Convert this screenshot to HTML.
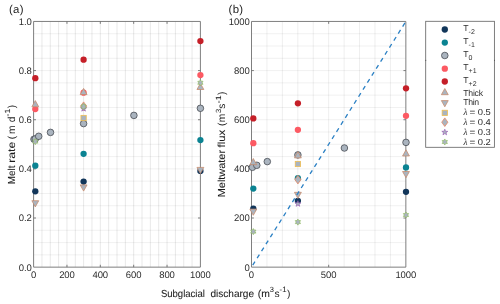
<!DOCTYPE html>
<html><head><meta charset="utf-8"><title>Figure</title>
<style>html,body{margin:0;padding:0;background:#fff;overflow:hidden}body{width:500px;height:304px;position:relative;font-family:"Liberation Sans",sans-serif}</style>
</head><body>
<svg width="500" height="304" viewBox="0 0 500 304" style="display:block;position:absolute;left:0;top:0;will-change:transform;text-rendering:geometricPrecision" font-family="'Liberation Sans', sans-serif" fill="#2e2e2e">
<rect width="500" height="304" fill="#fff"/>
<path d="M41.94 21.45V267.15M50.28 21.45V267.15M58.62 21.45V267.15M66.96 21.45V267.15M75.3 21.45V267.15M83.64 21.45V267.15M91.98 21.45V267.15M100.32 21.45V267.15M108.66 21.45V267.15M117 21.45V267.15M125.34 21.45V267.15M133.68 21.45V267.15M142.02 21.45V267.15M150.36 21.45V267.15M158.7 21.45V267.15M167.04 21.45V267.15M175.38 21.45V267.15M183.72 21.45V267.15M192.06 21.45V267.15" stroke="#000" stroke-opacity="0.115" stroke-width="0.8" fill="none"/>
<path d="M33.6 254.86H200.4M33.6 242.58H200.4M33.6 230.29H200.4M33.6 218.01H200.4M33.6 205.72H200.4M33.6 193.44H200.4M33.6 181.15H200.4M33.6 168.87H200.4M33.6 156.58H200.4M33.6 144.3H200.4M33.6 132.01H200.4M33.6 119.73H200.4M33.6 107.44H200.4M33.6 95.16H200.4M33.6 82.87H200.4M33.6 70.59H200.4M33.6 58.31H200.4M33.6 46.02H200.4M33.6 33.73H200.4" stroke="#000" stroke-opacity="0.08" stroke-width="0.8" fill="none"/>
<path d="M266.94 21.45V267.15M282.37 21.45V267.15M297.81 21.45V267.15M313.24 21.45V267.15M328.68 21.45V267.15M344.11 21.45V267.15M359.55 21.45V267.15M374.98 21.45V267.15M390.42 21.45V267.15" stroke="#000" stroke-opacity="0.085" stroke-width="0.8" fill="none"/>
<path d="M251.5 254.86H405.85M251.5 242.58H405.85M251.5 230.29H405.85M251.5 218.01H405.85M251.5 205.72H405.85M251.5 193.44H405.85M251.5 181.15H405.85M251.5 168.87H405.85M251.5 156.58H405.85M251.5 144.3H405.85M251.5 132.01H405.85M251.5 119.73H405.85M251.5 107.44H405.85M251.5 95.16H405.85M251.5 82.87H405.85M251.5 70.59H405.85M251.5 58.31H405.85M251.5 46.02H405.85M251.5 33.73H405.85" stroke="#000" stroke-opacity="0.08" stroke-width="0.8" fill="none"/>
<path d="M33.6 21.45H200.4V267.15H33.6ZM66.96 267.15v-2.4M66.96 21.45v2.4M100.32 267.15v-2.4M100.32 21.45v2.4M133.68 267.15v-2.4M133.68 21.45v2.4M167.04 267.15v-2.4M167.04 21.45v2.4M33.6 218.01h2.4M200.4 218.01h-2.4M33.6 168.87h2.4M200.4 168.87h-2.4M33.6 119.73h2.4M200.4 119.73h-2.4M33.6 70.59h2.4M200.4 70.59h-2.4" stroke="#686868" stroke-width="0.85" fill="none"/>
<path d="M251.5 21.45H405.85V267.15H251.5ZM328.68 267.15v-2.4M328.68 21.45v2.4M251.5 218.01h2.4M405.85 218.01h-2.4M251.5 168.87h2.4M405.85 168.87h-2.4M251.5 119.73h2.4M405.85 119.73h-2.4M251.5 70.59h2.4M405.85 70.59h-2.4" stroke="#686868" stroke-width="0.85" fill="none"/>
<text x="33.6" y="277.8" font-size="9.5" text-anchor="middle" textLength="5.22" lengthAdjust="spacing">0</text>
<text x="66.96" y="277.8" font-size="9.5" text-anchor="middle" textLength="15.66" lengthAdjust="spacing">200</text>
<text x="100.32" y="277.8" font-size="9.5" text-anchor="middle" textLength="15.66" lengthAdjust="spacing">400</text>
<text x="133.68" y="277.8" font-size="9.5" text-anchor="middle" textLength="15.66" lengthAdjust="spacing">600</text>
<text x="167.04" y="277.8" font-size="9.5" text-anchor="middle" textLength="15.66" lengthAdjust="spacing">800</text>
<text x="200.4" y="277.8" font-size="9.5" text-anchor="middle" textLength="20.88" lengthAdjust="spacing">1000</text>
<text x="31.8" y="270.5" font-size="9.5" text-anchor="end" textLength="13.05" lengthAdjust="spacing">0.0</text>
<text x="31.8" y="221.36" font-size="9.5" text-anchor="end" textLength="13.05" lengthAdjust="spacing">0.2</text>
<text x="31.8" y="172.22" font-size="9.5" text-anchor="end" textLength="13.05" lengthAdjust="spacing">0.4</text>
<text x="31.8" y="123.08" font-size="9.5" text-anchor="end" textLength="13.05" lengthAdjust="spacing">0.6</text>
<text x="31.8" y="73.94" font-size="9.5" text-anchor="end" textLength="13.05" lengthAdjust="spacing">0.8</text>
<text x="31.8" y="24.8" font-size="9.5" text-anchor="end" textLength="13.05" lengthAdjust="spacing">1.0</text>
<text x="251.5" y="277.8" font-size="9.5" text-anchor="middle" textLength="5.22" lengthAdjust="spacing">0</text>
<text x="328.68" y="277.8" font-size="9.5" text-anchor="middle" textLength="15.66" lengthAdjust="spacing">500</text>
<text x="405.85" y="277.8" font-size="9.5" text-anchor="middle" textLength="20.88" lengthAdjust="spacing">1000</text>
<text x="249.7" y="270.5" font-size="9.5" text-anchor="end" textLength="5.22" lengthAdjust="spacing">0</text>
<text x="249.7" y="221.36" font-size="9.5" text-anchor="end" textLength="15.66" lengthAdjust="spacing">200</text>
<text x="249.7" y="172.22" font-size="9.5" text-anchor="end" textLength="15.66" lengthAdjust="spacing">400</text>
<text x="249.7" y="123.08" font-size="9.5" text-anchor="end" textLength="15.66" lengthAdjust="spacing">600</text>
<text x="249.7" y="73.94" font-size="9.5" text-anchor="end" textLength="15.66" lengthAdjust="spacing">800</text>
<text x="249.7" y="24.8" font-size="9.5" text-anchor="end" textLength="20.88" lengthAdjust="spacing">1000</text>
<text x="8.9" y="13.2" font-size="11.4" text-anchor="start" letter-spacing="0.35" fill="#1c1c1c">(a)</text>
<text x="228.5" y="13.2" font-size="11.4" text-anchor="start" letter-spacing="0.35" fill="#1c1c1c">(b)</text>
<text x="160.9" y="296.5" font-size="10.2" fill="#1c1c1c" stroke="#1c1c1c" stroke-width="0.07" textLength="44" lengthAdjust="spacingAndGlyphs">Subglacial</text>
<text x="210.4" y="296.5" font-size="10.2" fill="#1c1c1c" stroke="#1c1c1c" stroke-width="0.07" textLength="43.7" lengthAdjust="spacingAndGlyphs">discharge</text>
<text x="257.8" y="296.5" font-size="10.2" fill="#1c1c1c" stroke="#1c1c1c" stroke-width="0.07" textLength="12.1" lengthAdjust="spacingAndGlyphs">(m</text>
<text x="271.95" y="291.8" font-size="7.5" fill="#1c1c1c" text-anchor="middle">3</text>
<text x="276.95" y="296.5" font-size="10.2" fill="#1c1c1c" text-anchor="middle">s</text>
<text x="279.6" y="291.8" font-size="7.5" fill="#1c1c1c" stroke="#1c1c1c" stroke-width="0.07" textLength="6.8" lengthAdjust="spacingAndGlyphs">-1</text>
<text x="288.7" y="296.5" font-size="10.2" fill="#1c1c1c" text-anchor="middle">)</text>
<text transform="translate(15,184.2) rotate(-90)" font-size="10.2" fill="#1c1c1c" stroke="#1c1c1c" stroke-width="0.07" textLength="18.7" lengthAdjust="spacingAndGlyphs">Melt</text>
<text transform="translate(15,162.8) rotate(-90)" font-size="10.2" fill="#1c1c1c" stroke="#1c1c1c" stroke-width="0.07" textLength="21.1" lengthAdjust="spacingAndGlyphs">rate</text>
<text transform="translate(15,137.45) rotate(-90)" font-size="10.2" fill="#1c1c1c" text-anchor="middle">(</text>
<text transform="translate(15,129.8) rotate(-90)" font-size="10.2" fill="#1c1c1c" text-anchor="middle">m</text>
<text transform="translate(15,119.4) rotate(-90)" font-size="10.2" fill="#1c1c1c" text-anchor="middle">d</text>
<text transform="translate(10.3,116.4) rotate(-90)" font-size="7.5" fill="#1c1c1c" stroke="#1c1c1c" stroke-width="0.07" textLength="7.8" lengthAdjust="spacingAndGlyphs">-1</text>
<text transform="translate(15,106.6) rotate(-90)" font-size="10.2" fill="#1c1c1c" text-anchor="middle">)</text>
<text transform="translate(225.4,197.3) rotate(-90)" font-size="10.2" fill="#1c1c1c" stroke="#1c1c1c" stroke-width="0.07" textLength="47.4" lengthAdjust="spacingAndGlyphs">Meltwater</text>
<text transform="translate(225.4,147.4) rotate(-90)" font-size="10.2" fill="#1c1c1c" stroke="#1c1c1c" stroke-width="0.07" textLength="17.7" lengthAdjust="spacingAndGlyphs">flux</text>
<text transform="translate(225.4,124.3) rotate(-90)" font-size="10.2" fill="#1c1c1c" text-anchor="middle">(</text>
<text transform="translate(225.4,117.9) rotate(-90)" font-size="10.2" fill="#1c1c1c" text-anchor="middle">m</text>
<text transform="translate(220.7,110.8) rotate(-90)" font-size="7.5" fill="#1c1c1c" text-anchor="middle">3</text>
<text transform="translate(225.4,106.1) rotate(-90)" font-size="10.2" fill="#1c1c1c" text-anchor="middle">s</text>
<text transform="translate(220.7,103.2) rotate(-90)" font-size="7.5" fill="#1c1c1c" stroke="#1c1c1c" stroke-width="0.07" textLength="7.6" lengthAdjust="spacingAndGlyphs">-1</text>
<text transform="translate(225.4,93.3) rotate(-90)" font-size="10.2" fill="#1c1c1c" text-anchor="middle">)</text>
<circle cx="35.3" cy="191.3" r="3.15" fill="#12365a"/>
<circle cx="83.6" cy="181.6" r="3.15" fill="#12365a"/>
<circle cx="200.4" cy="170.9" r="3.15" fill="#12365a"/>
<circle cx="35.3" cy="165.7" r="3.15" fill="#0b8392"/>
<circle cx="83.6" cy="153.8" r="3.15" fill="#0b8392"/>
<circle cx="200.4" cy="140.1" r="3.15" fill="#0b8392"/>
<circle cx="34" cy="139.2" r="3.3" fill="#aab4bf" stroke="#41464c" stroke-width="0.75"/>
<circle cx="35.3" cy="138.9" r="3.3" fill="#aab4bf" stroke="#41464c" stroke-width="0.75"/>
<circle cx="38.7" cy="136.3" r="3.3" fill="#aab4bf" stroke="#41464c" stroke-width="0.75"/>
<circle cx="50.5" cy="132.4" r="3.3" fill="#aab4bf" stroke="#41464c" stroke-width="0.75"/>
<circle cx="83.6" cy="123.6" r="3.3" fill="#aab4bf" stroke="#41464c" stroke-width="0.75"/>
<circle cx="133.9" cy="115.4" r="3.3" fill="#aab4bf" stroke="#41464c" stroke-width="0.75"/>
<circle cx="200.4" cy="108.3" r="3.3" fill="#aab4bf" stroke="#41464c" stroke-width="0.75"/>
<circle cx="35.3" cy="109.1" r="3.15" fill="#fc5a63"/>
<circle cx="83.6" cy="92.7" r="3.15" fill="#fc5a63"/>
<circle cx="200.4" cy="75.1" r="3.15" fill="#fc5a63"/>
<circle cx="35.3" cy="78.2" r="3.15" fill="#c51f28"/>
<circle cx="83.6" cy="59.7" r="3.15" fill="#c51f28"/>
<circle cx="200.4" cy="41.05" r="3.15" fill="#c51f28"/>
<path d="M35.3 100.6L38.75 106.8L31.85 106.8Z" fill="#aab4bf" stroke="#c8896a" stroke-width="0.75" stroke-linejoin="miter"/>
<path d="M83.6 88.4L87.05 94.6L80.15 94.6Z" fill="#aab4bf" stroke="#c8896a" stroke-width="0.75" stroke-linejoin="miter"/>
<path d="M200.4 83.3L203.85 89.5L196.95 89.5Z" fill="#aab4bf" stroke="#c8896a" stroke-width="0.75" stroke-linejoin="miter"/>
<path d="M35.3 206.9L38.75 200.7L31.85 200.7Z" fill="#aab4bf" stroke="#c8896a" stroke-width="0.75" stroke-linejoin="miter"/>
<path d="M83.6 191.1L87.05 184.9L80.15 184.9Z" fill="#aab4bf" stroke="#c8896a" stroke-width="0.75" stroke-linejoin="miter"/>
<path d="M200.4 173.6L203.85 167.4L196.95 167.4Z" fill="#aab4bf" stroke="#c8896a" stroke-width="0.75" stroke-linejoin="miter"/>
<rect x="80.95" y="115.35" width="5.3" height="5.3" fill="#aab4bf" stroke="#efbd52" stroke-width="0.8"/>
<path d="M83.6 101.9L86.7 106.2L83.6 110.5L80.5 106.2Z" fill="#aab4bf" stroke="#e8835c" stroke-width="0.75"/>
<path d="M83.6 105.45L84.36 107.55L86.6 107.63L84.84 109L85.45 111.15L83.6 109.9L81.75 111.15L82.36 109L80.6 107.63L82.84 107.55Z" fill="#aab4bf" stroke="#9452b0" stroke-width="0.6" stroke-linejoin="miter"/>
<path d="M35.3 138.55L36.2 140.04L37.94 140.07L37.1 141.6L37.94 143.12L36.2 143.16L35.3 144.65L34.4 143.16L32.66 143.12L33.5 141.6L32.66 140.07L34.4 140.04Z" fill="#aab4bf" stroke="#8cbb55" stroke-width="0.6" stroke-linejoin="miter"/>
<path d="M83.6 103.55L84.5 105.04L86.24 105.07L85.4 106.6L86.24 108.12L84.5 108.16L83.6 109.65L82.7 108.16L80.96 108.12L81.8 106.6L80.96 105.07L82.7 105.04Z" fill="#aab4bf" stroke="#8cbb55" stroke-width="0.6" stroke-linejoin="miter"/>
<path d="M200.4 79.75L201.3 81.24L203.04 81.27L202.2 82.8L203.04 84.33L201.3 84.36L200.4 85.85L199.5 84.36L197.76 84.33L198.6 82.8L197.76 81.27L199.5 81.24Z" fill="#aab4bf" stroke="#8cbb55" stroke-width="0.6" stroke-linejoin="miter"/>
<circle cx="253.3" cy="208.6" r="3.15" fill="#12365a"/>
<circle cx="297.9" cy="200.8" r="3.15" fill="#12365a"/>
<circle cx="406" cy="191.8" r="3.15" fill="#12365a"/>
<circle cx="253.3" cy="188.55" r="3.15" fill="#0b8392"/>
<circle cx="297.9" cy="178.2" r="3.15" fill="#0b8392"/>
<circle cx="406" cy="167.4" r="3.15" fill="#0b8392"/>
<circle cx="252.4" cy="167.3" r="3.3" fill="#aab4bf" stroke="#41464c" stroke-width="0.75"/>
<circle cx="256.8" cy="165.3" r="3.3" fill="#aab4bf" stroke="#41464c" stroke-width="0.75"/>
<circle cx="267.3" cy="161.6" r="3.3" fill="#aab4bf" stroke="#41464c" stroke-width="0.75"/>
<circle cx="297.9" cy="154.9" r="3.3" fill="#aab4bf" stroke="#41464c" stroke-width="0.75"/>
<circle cx="344.4" cy="148" r="3.3" fill="#aab4bf" stroke="#41464c" stroke-width="0.75"/>
<circle cx="406" cy="142.4" r="3.3" fill="#aab4bf" stroke="#41464c" stroke-width="0.75"/>
<circle cx="253.3" cy="143.2" r="3.15" fill="#fc5a63"/>
<circle cx="297.9" cy="129.8" r="3.15" fill="#fc5a63"/>
<circle cx="406" cy="115.8" r="3.15" fill="#fc5a63"/>
<circle cx="253.3" cy="118.4" r="3.15" fill="#c51f28"/>
<circle cx="297.9" cy="103.3" r="3.15" fill="#c51f28"/>
<circle cx="406" cy="88.3" r="3.15" fill="#c51f28"/>
<path d="M253.3 158.5L256.75 164.7L249.85 164.7Z" fill="#aab4bf" stroke="#c8896a" stroke-width="0.75" stroke-linejoin="miter"/>
<path d="M297.9 151.7L301.35 157.9L294.45 157.9Z" fill="#aab4bf" stroke="#c8896a" stroke-width="0.75" stroke-linejoin="miter"/>
<path d="M406 149.8L409.45 156L402.55 156Z" fill="#aab4bf" stroke="#c8896a" stroke-width="0.75" stroke-linejoin="miter"/>
<path d="M253.3 215.3L256.75 209.1L249.85 209.1Z" fill="#aab4bf" stroke="#c8896a" stroke-width="0.75" stroke-linejoin="miter"/>
<path d="M297.9 198.5L301.35 192.3L294.45 192.3Z" fill="#aab4bf" stroke="#c8896a" stroke-width="0.75" stroke-linejoin="miter"/>
<path d="M406 177.7L409.45 171.5L402.55 171.5Z" fill="#aab4bf" stroke="#c8896a" stroke-width="0.75" stroke-linejoin="miter"/>
<rect x="295.25" y="161.35" width="5.3" height="5.3" fill="#aab4bf" stroke="#efbd52" stroke-width="0.8"/>
<path d="M297.9 175.3L301 179.6L297.9 183.9L294.8 179.6Z" fill="#aab4bf" stroke="#e8835c" stroke-width="0.75"/>
<path d="M297.9 200.65L298.66 202.75L300.9 202.83L299.14 204.2L299.75 206.35L297.9 205.1L296.05 206.35L296.66 204.2L294.9 202.83L297.14 202.75Z" fill="#aab4bf" stroke="#9452b0" stroke-width="0.6" stroke-linejoin="miter"/>
<path d="M253.3 228.55L254.2 230.04L255.94 230.07L255.1 231.6L255.94 233.12L254.2 233.16L253.3 234.65L252.4 233.16L250.66 233.12L251.5 231.6L250.66 230.07L252.4 230.04Z" fill="#aab4bf" stroke="#8cbb55" stroke-width="0.6" stroke-linejoin="miter"/>
<path d="M297.9 219.05L298.8 220.54L300.54 220.57L299.7 222.1L300.54 223.62L298.8 223.66L297.9 225.15L297 223.66L295.26 223.62L296.1 222.1L295.26 220.57L297 220.54Z" fill="#aab4bf" stroke="#8cbb55" stroke-width="0.6" stroke-linejoin="miter"/>
<path d="M406 211.95L406.9 213.44L408.64 213.47L407.8 215L408.64 216.53L406.9 216.56L406 218.05L405.1 216.56L403.36 216.53L404.2 215L403.36 213.47L405.1 213.44Z" fill="#aab4bf" stroke="#8cbb55" stroke-width="0.6" stroke-linejoin="miter"/>
<path d="M251.5 267.15L405.85 21.45" stroke="#2b80c4" stroke-width="1.3" stroke-dasharray="4.25 4.04" stroke-dashoffset="6.0" fill="none"/>
<rect x="425.7" y="21.3" width="68.7" height="126" fill="#fff" stroke="#686868" stroke-width="0.85"/>
<path d="M425.3 60.4h0.9M494 60.4h0.9" stroke="#4a4a4a" stroke-width="0.9"/>
<circle cx="444.8" cy="29.5" r="3.15" fill="#12365a"/>
<circle cx="444.8" cy="42.6" r="3.15" fill="#0b8392"/>
<circle cx="444.8" cy="55.5" r="3.3" fill="#aab4bf" stroke="#41464c" stroke-width="0.75"/>
<circle cx="444.8" cy="68.7" r="3.15" fill="#fc5a63"/>
<circle cx="444.8" cy="81.5" r="3.15" fill="#c51f28"/>
<path d="M444.8 88.5L448.25 94.7L441.35 94.7Z" fill="#aab4bf" stroke="#c8896a" stroke-width="0.75" stroke-linejoin="miter"/>
<path d="M444.8 106.8L448.25 100.6L441.35 100.6Z" fill="#aab4bf" stroke="#c8896a" stroke-width="0.75" stroke-linejoin="miter"/>
<rect x="442.15" y="110.25" width="5.3" height="5.3" fill="#aab4bf" stroke="#efbd52" stroke-width="0.8"/>
<path d="M444.8 117.9L447.9 122.2L444.8 126.5L441.7 122.2Z" fill="#aab4bf" stroke="#e8835c" stroke-width="0.75"/>
<path d="M444.8 129.15L445.56 131.25L447.8 131.33L446.04 132.7L446.65 134.85L444.8 133.6L442.95 134.85L443.56 132.7L441.8 131.33L444.04 131.25Z" fill="#aab4bf" stroke="#9452b0" stroke-width="0.6" stroke-linejoin="miter"/>
<path d="M444.8 138.95L445.7 140.44L447.44 140.47L446.6 142L447.44 143.53L445.7 143.56L444.8 145.05L443.9 143.56L442.16 143.53L443 142L442.16 140.47L443.9 140.44Z" fill="#aab4bf" stroke="#8cbb55" stroke-width="0.6" stroke-linejoin="miter"/>
<text x="463.3" y="31.0" font-size="8.7">T<tspan font-size="7" dy="3.0" letter-spacing="0.1">-2</tspan></text>
<text x="463.3" y="43.8" font-size="8.7">T<tspan font-size="7" dy="3.0" letter-spacing="0.1">-1</tspan></text>
<text x="463.3" y="56.8" font-size="8.7">T<tspan font-size="7" dy="3.0" letter-spacing="0.1">0</tspan></text>
<text x="463.3" y="70.0" font-size="8.7">T<tspan font-size="7" dy="3.0" letter-spacing="0.1">+1</tspan></text>
<text x="463.3" y="83.0" font-size="8.7">T<tspan font-size="7" dy="3.0" letter-spacing="0.1">+2</tspan></text>
<text x="463.3" y="95.5" font-size="8.7" textLength="19.7" lengthAdjust="spacing">Thick</text>
<text x="463.3" y="105.1" font-size="8.7" textLength="15.7" lengthAdjust="spacing">Thin</text>
<text x="463.5" y="115.3" font-size="8.7"><tspan font-family="'Liberation Serif', serif" font-style="italic" font-size="9.1">λ</tspan></text>
<text x="469.6" y="115.3" font-size="8.7" textLength="5.8" lengthAdjust="spacingAndGlyphs">=</text>
<text x="477.7" y="115.3" font-size="8.7" textLength="13.1" lengthAdjust="spacingAndGlyphs">0.5</text>
<text x="463.5" y="124.9" font-size="8.7"><tspan font-family="'Liberation Serif', serif" font-style="italic" font-size="9.1">λ</tspan></text>
<text x="469.6" y="124.9" font-size="8.7" textLength="5.8" lengthAdjust="spacingAndGlyphs">=</text>
<text x="477.7" y="124.9" font-size="8.7" textLength="13.1" lengthAdjust="spacingAndGlyphs">0.4</text>
<text x="463.5" y="135.0" font-size="8.7"><tspan font-family="'Liberation Serif', serif" font-style="italic" font-size="9.1">λ</tspan></text>
<text x="469.6" y="135.0" font-size="8.7" textLength="5.8" lengthAdjust="spacingAndGlyphs">=</text>
<text x="477.7" y="135.0" font-size="8.7" textLength="13.1" lengthAdjust="spacingAndGlyphs">0.3</text>
<text x="463.5" y="144.8" font-size="8.7"><tspan font-family="'Liberation Serif', serif" font-style="italic" font-size="9.1">λ</tspan></text>
<text x="469.6" y="144.8" font-size="8.7" textLength="5.8" lengthAdjust="spacingAndGlyphs">=</text>
<text x="477.7" y="144.8" font-size="8.7" textLength="13.1" lengthAdjust="spacingAndGlyphs">0.2</text>
</svg>
</body></html>
